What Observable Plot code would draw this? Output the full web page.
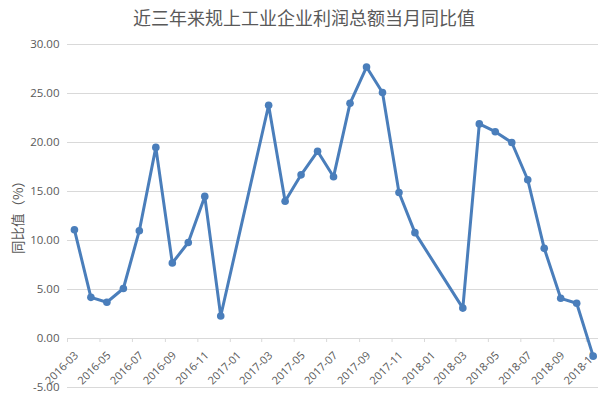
<!DOCTYPE html>
<html><head><meta charset="utf-8">
<script src="https://cdn.jsdelivr.net/npm/d3@7"></script>
<script src="https://cdn.jsdelivr.net/npm/@observablehq/plot@0.6"></script>
<style>
body{margin:0;background:#fff;}
#title{height:34px;line-height:34px;text-align:center;font-size:18px;font-family:"Noto Sans CJK SC",sans-serif;color:#595959;}
#chart svg{overflow:visible;}
</style></head><body>
<div id="title">近三年来规上工业企业利润总额当月同比值</div>
<div id="chart"></div>
<script>
const months = ["2016-03","2016-04","2016-05","2016-06","2016-07","2016-08","2016-09","2016-10","2016-11","2016-12",
  "2017-03","2017-04","2017-05","2017-06","2017-07","2017-08","2017-09","2017-10","2017-11","2017-12",
  "2018-03","2018-04","2018-05","2018-06","2018-07","2018-08","2018-09","2018-10","2018-11"];
const values = [11.1,4.2,3.7,5.1,11.0,19.5,7.7,9.8,14.5,2.3,
  23.8,14.0,16.7,19.1,16.5,24.0,27.7,25.1,14.9,10.8,
  3.1,21.9,21.1,20.0,16.2,9.2,4.1,3.6,-1.8];
const yTicks = [-5,0,5,10,15,20,25,30];
const xTickLabels = ["2016-03","2016-05","2016-07","2016-09","2016-11","2017-01","2017-03","2017-05","2017-07","2017-09","2017-11","2018-01","2018-03","2018-05","2018-07","2018-09","2018-11"];
const xDomain = ["2016-03-01","2018-11-24"];
const yLabel = "同比值（%）";

const parseMonth = s => { const [y,m] = s.split("-").map(Number); return new Date(Date.UTC(y, m-1, 14)); };
const parseStart = s => { const [y,m] = s.split("-").map(Number); return new Date(Date.UTC(y, m-1, 1)); };
const data = months.map((m,i) => ({date: parseMonth(m), value: values[i]}));
const xTicks = xTickLabels.map(parseStart);
const fmt = d3.utcFormat("%Y-%m");

const W = 608, H = 362, mT = 10, mB = 9, mL = 67, mR = 10;
const yMin = -5, yMax = 30;
const zeroOffset = (H - mT - mB) * (0 - yMin) / (yMax - yMin);
const grey = "#595959", gridC = "#d9d9d9", lineC = "#4a7ebb";

const chart = Plot.plot({
  width: W, height: H, marginTop: mT, marginBottom: mB, marginLeft: mL, marginRight: mR,
  style: {fontFamily: '"Open Sans","Noto Sans CJK SC",sans-serif', fontSize: "11px", color: grey, background: "#fff"},
  x: {type: "utc", domain: xDomain.map(s => new Date(s + "T00:00:00Z"))},
  y: {domain: [yMin, yMax]},
  marks: [
    Plot.ruleY(yTicks, {stroke: gridC, strokeWidth: 1}),
    Plot.axisY({ticks: yTicks, tickFormat: d => d.toFixed(2), tickSize: 0, tickPadding: 8, fontSize: 11.5, label: null}),
    Plot.text([yLabel], {text: d => d, frameAnchor: "left", textAnchor: "middle", rotate: -90, dx: -49, dy: -2, fontSize: 13.5,
      fontFamily: '"Noto Sans CJK SC",sans-serif', fill: grey}),
    Plot.axisX({ticks: xTicks, tickFormat: () => "", tickSize: 4, stroke: gridC, dy: -zeroOffset, label: null}),
    Plot.axisX({ticks: xTicks, tickFormat: fmt, tickSize: 0, tickPadding: 15, tickRotate: -45, dx: 9, dy: -zeroOffset, label: null, fontSize: 11}),
    Plot.line(data, {x: "date", y: "value", stroke: lineC, strokeWidth: 3, curve: "linear"}),
    Plot.dot(data, {x: "date", y: "value", fill: lineC, r: 3.8, stroke: "none"})
  ]
});
document.getElementById("chart").appendChild(chart);
</script>
</body></html>
